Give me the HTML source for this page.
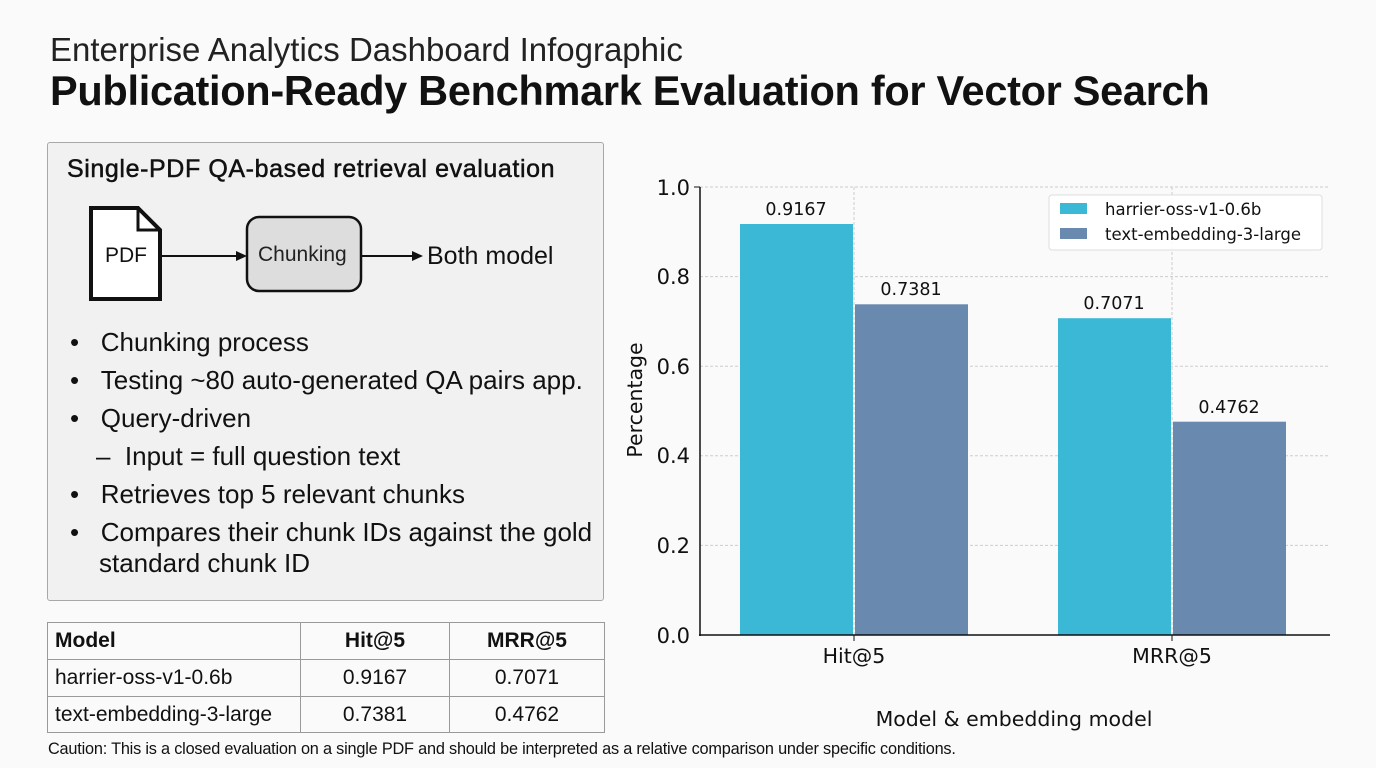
<!DOCTYPE html>
<html><head><meta charset="utf-8"><style>
body{margin:0;width:1376px;height:768px;background:#fafafa;position:relative;overflow:hidden;font-family:"Liberation Sans",sans-serif;color:#111}
.a{position:absolute;white-space:nowrap}
</style></head><body>
<div class="a" style="left:50px;top:31px;font-size:33px;color:#222">Enterprise Analytics Dashboard Infographic</div>
<div class="a" style="left:50px;top:67px;font-size:41.5px;font-weight:bold;letter-spacing:-0.3px">Publication-Ready Benchmark Evaluation for Vector Search</div>

<div class="a" style="left:47px;top:142px;width:555px;height:457px;background:#f1f1f1;border:1.5px solid #a8a8a8;border-radius:3px"></div>
<div class="a" style="left:67px;top:155px;font-size:25px;letter-spacing:0.6px;-webkit-text-stroke:0.5px #111">Single-PDF QA-based retrieval evaluation</div>
<svg class="a" style="left:0;top:0" width="620" height="320">
<path d="M91 208 H138 L160 230 V299 H91 Z" fill="#fff" stroke="#111" stroke-width="4"/>
<path d="M138 208 V230 H160" fill="none" stroke="#111" stroke-width="3"/>
<line x1="162" y1="256" x2="238" y2="256" stroke="#111" stroke-width="2"/>
<path d="M247 256 L236 251 V261 Z" fill="#111"/>
<rect x="247" y="217" width="114" height="74" rx="12" fill="#ddd" stroke="#111" stroke-width="2.5"/>
<line x1="362" y1="256" x2="414" y2="256" stroke="#111" stroke-width="2"/>
<path d="M423 256 L412 251 V261 Z" fill="#111"/>
</svg>
<div class="a" style="left:105px;top:244px;font-size:21px">PDF</div>
<div class="a" style="left:258px;top:243px;font-size:21px;color:#222">Chunking</div>
<div class="a" style="left:427px;top:242px;font-size:25px">Both model</div>
<div class="a" style="left:70px;top:323px;font-size:26px;line-height:38px">
<div>•&nbsp;&nbsp;&nbsp;Chunking process</div>
<div>•&nbsp;&nbsp;&nbsp;Testing ~80 auto-generated QA pairs app.</div>
<div>•&nbsp;&nbsp;&nbsp;Query-driven</div>
<div style="padding-left:26px">–&nbsp;&nbsp;Input = full question text</div>
<div>•&nbsp;&nbsp;&nbsp;Retrieves top 5 relevant chunks</div>
<div>•&nbsp;&nbsp;&nbsp;Compares their chunk IDs against the gold</div>
<div style="padding-left:29px;margin-top:-7px">standard chunk ID</div>
</div>

<table class="a" style="left:47px;top:622px;width:558px;border-collapse:collapse;font-size:21px;background:#fafafa">
<tr style="height:37px"><td style="border:1.5px solid #999;padding:0 7px;font-weight:bold;width:238px">Model</td><td style="border:1.5px solid #999;text-align:center;font-weight:bold;width:146px">Hit@5</td><td style="border:1.5px solid #999;text-align:center;font-weight:bold">MRR@5</td></tr>
<tr style="height:37px"><td style="border:1.5px solid #999;padding:0 7px">harrier-oss-v1-0.6b</td><td style="border:1.5px solid #999;text-align:center">0.9167</td><td style="border:1.5px solid #999;text-align:center">0.7071</td></tr>
<tr style="height:36px"><td style="border:1.5px solid #999;padding:0 7px">text-embedding-3-large</td><td style="border:1.5px solid #999;text-align:center">0.7381</td><td style="border:1.5px solid #999;text-align:center">0.4762</td></tr>
</table>
<div class="a" style="left:48px;top:740px;font-size:16.3px;letter-spacing:-0.2px">Caution: This is a closed evaluation on a single PDF and should be interpreted as a relative comparison under specific conditions.</div>

<svg class="a" style="left:0;top:0" width="1376" height="768" font-family="DejaVu Sans, sans-serif">
<g stroke="#ccc" stroke-dasharray="3,2" stroke-width="1">
<line x1="700" y1="187" x2="1330" y2="187"/><line x1="700" y1="276.6" x2="1330" y2="276.6"/>
<line x1="700" y1="366.2" x2="1330" y2="366.2"/><line x1="700" y1="455.8" x2="1330" y2="455.8"/>
<line x1="700" y1="545.4" x2="1330" y2="545.4"/>
<line x1="854" y1="187" x2="854" y2="635"/><line x1="1172" y1="187" x2="1172" y2="635"/>
</g>
<rect x="740" y="224" width="113" height="411" fill="#3ab8d6"/>
<rect x="855" y="304.3" width="113" height="330.7" fill="#6989ae"/>
<rect x="1058" y="318.2" width="113" height="316.8" fill="#3ab8d6"/>
<rect x="1173" y="421.7" width="113" height="213.3" fill="#6989ae"/>
<line x1="700" y1="187" x2="700" y2="636" stroke="#111" stroke-width="1.5"/>
<line x1="699" y1="635" x2="1330" y2="635" stroke="#111" stroke-width="1.5"/>
<line x1="854" y1="635" x2="854" y2="641" stroke="#111"/><line x1="1172" y1="635" x2="1172" y2="641" stroke="#111"/>
<line x1="694" y1="187" x2="700" y2="187" stroke="#111"/>
<g font-size="21" fill="#111" text-anchor="end">
<text x="690" y="195">1.0</text><text x="690" y="284">0.8</text><text x="690" y="374">0.6</text>
<text x="690" y="463">0.4</text><text x="690" y="553">0.2</text><text x="690" y="643">0.0</text>
</g>
<g font-size="17.5" fill="#111" text-anchor="middle">
<text x="796" y="215">0.9167</text><text x="911" y="295">0.7381</text>
<text x="1114" y="309">0.7071</text><text x="1229" y="413">0.4762</text>
</g>
<g font-size="20.5" fill="#111" text-anchor="middle">
<text x="854" y="663">Hit@5</text><text x="1172" y="663">MRR@5</text>
<text x="1014" y="726">Model &amp; embedding model</text>
<text transform="translate(642,400) rotate(-90)">Percentage</text>
</g>
<rect x="1049" y="195" width="273" height="55" rx="3" fill="#fff" fill-opacity="0.85" stroke="#ddd"/>
<rect x="1060" y="203" width="27" height="11" fill="#3ab8d6"/>
<rect x="1060" y="228" width="27" height="11" fill="#6989ae"/>
<g font-size="16.5" fill="#111"><text x="1105" y="215">harrier-oss-v1-0.6b</text><text x="1105" y="240">text-embedding-3-large</text></g>
</svg>
</body></html>
